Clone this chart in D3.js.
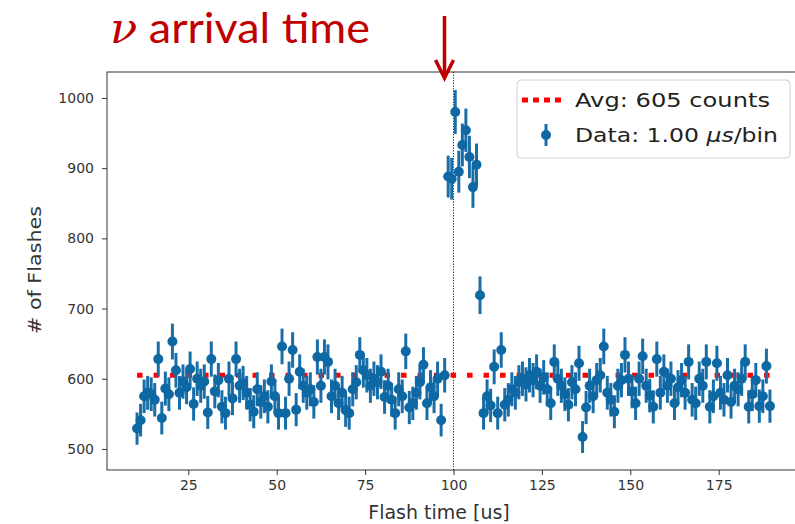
<!DOCTYPE html>
<html>
<head>
<meta charset="utf-8">
<script src="https://cdn.jsdelivr.net/npm/d3@7"></script>
<style>
  html, body { margin: 0; padding: 0; background: #fff; }
  svg { display: block; }
  .axis text { font-family: "DejaVu Sans", sans-serif; font-size: 14px; fill: #333; }
  .axis path, .axis line { stroke: #333; }
</style>
</head>
<body>
<div id="chart"></div>
<script>
// bin centres run from 10.5 to 189.5 us, one per bin
const binStart = 10.5;
const counts = [
  529, 541, 575, 580, 578, 570, 628, 544, 586, 578,
  653, 612, 580, 596, 588, 614, 564, 600, 590, 596,
  552, 628, 582, 598, 560, 551, 600, 572, 628, 590,
  594, 580, 563, 553, 585, 567, 575, 560, 596, 575,
  551, 646, 551, 600, 641, 556, 610, 590, 580, 585,
  567, 631, 590, 631, 624, 575, 590, 565, 580, 555,
  551, 585, 595, 634, 612, 605, 590, 600, 595, 610,
  574, 590, 570, 551, 585, 575, 639, 559, 565, 580,
  595, 620, 565, 588, 575, 600, 541, 605, 888, 885,
  980, 895, 933, 954, 916, 873, 905, 719, 551, 575,
  562, 617, 551, 641, 563, 570, 585, 580, 595, 600,
  592, 605, 598, 610, 590, 602, 585, 565, 624, 600,
  590, 578, 563, 595, 585, 622, 517, 559, 590, 575,
  598, 605, 646, 580, 570, 553, 590, 598, 634, 600,
  582, 565, 600, 632, 590, 576, 560, 628, 580, 610,
  590, 600, 565, 588, 598, 580, 624, 570, 565, 600,
  590, 624, 560, 575, 622, 580, 570, 605, 567, 590,
  585, 600, 624, 560, 578, 598, 561, 575, 618, 561
];
const avgCount = 605;
const arrivalTime = 100;
const xTicks = [25, 50, 75, 100, 125, 150, 175];
const yTicks = [500, 600, 700, 800, 900, 1000];

const data = counts.map((c, i) => ({ t: binStart + i, n: c, err: Math.sqrt(c) }));

const W = 795, H = 524;
const plot = { left: 107, right: 800, top: 72, bottom: 470 };

const svg = d3.select("#chart").append("svg")
  .attr("width", W)
  .attr("height", H);

const x = d3.scaleLinear().domain([2, 198]).range([plot.left, plot.right]);
const y = d3.scaleLinear().domain([470, 1037]).range([plot.bottom, plot.top]);

// frame
svg.append("rect")
  .attr("x", plot.left).attr("y", plot.top)
  .attr("width", plot.right - plot.left).attr("height", plot.bottom - plot.top)
  .attr("fill", "none").attr("stroke", "#333").attr("stroke-width", 1);

// axes
svg.append("g")
  .attr("class", "axis")
  .attr("transform", `translate(0,${plot.bottom})`)
  .call(d3.axisBottom(x).tickValues(xTicks).tickSize(5).tickPadding(5).tickFormat(d3.format("d")))
  .call(g => g.select(".domain").remove());

svg.append("g")
  .attr("class", "axis")
  .attr("transform", `translate(${plot.left},0)`)
  .call(d3.axisLeft(y).tickValues(yTicks).tickSize(5).tickPadding(8).tickFormat(d3.format("d")))
  .call(g => g.select(".domain").remove());

svg.append("text")
  .attr("x", 439)
  .attr("y", 519)
  .attr("text-anchor", "middle")
  .attr("font-family", "DejaVu Sans, sans-serif")
  .attr("font-size", "19px")
  .attr("fill", "#333")
  .text("Flash time [us]");

svg.append("text")
  .attr("transform", `translate(41,270) rotate(-90)`)
  .attr("text-anchor", "middle")
  .attr("font-family", "DejaVu Sans, sans-serif")
  .attr("font-size", "18px")
  .attr("fill", "#333")
  .attr("textLength", 128)
  .attr("lengthAdjust", "spacingAndGlyphs")
  .text("# of Flashes");

// arrival marker
svg.append("line")
  .attr("x1", x(arrivalTime)).attr("x2", x(arrivalTime))
  .attr("y1", plot.top).attr("y2", plot.bottom)
  .attr("stroke", "#222").attr("stroke-width", 1)
  .attr("stroke-dasharray", "1.2,1.5");

// average line
const tExtent = d3.extent(data, d => d.t);
svg.append("line")
  .attr("x1", x(tExtent[0])).attr("x2", x(tExtent[1]))
  .attr("y1", y(avgCount)).attr("y2", y(avgCount))
  .attr("stroke", "#ff0000").attr("stroke-width", 5)
  .attr("stroke-dasharray", "5.5,11");

// error bars + points
const blue = "#1a6ea8";
const pts = svg.append("g");
pts.selectAll("line")
  .data(data)
  .enter()
  .append("line")
  .attr("x1", d => x(d.t)).attr("x2", d => x(d.t))
  .attr("y1", d => y(d.n - d.err)).attr("y2", d => y(d.n + d.err))
  .attr("stroke", blue).attr("stroke-width", 3);

pts.selectAll("circle")
  .data(data)
  .enter()
  .append("circle")
  .attr("cx", d => x(d.t))
  .attr("cy", d => y(d.n))
  .attr("r", 5)
  .attr("fill", "#0e68a3");

// legend
const lg = svg.append("g").attr("transform", "translate(517,80)");
lg.append("rect")
  .attr("width", 273).attr("height", 78).attr("rx", 4)
  .attr("fill", "#fff").attr("fill-opacity", 0.85)
  .attr("stroke", "#d0d0d0").attr("stroke-width", 1);
lg.append("line")
  .attr("x1", 5).attr("x2", 48).attr("y1", 20).attr("y2", 20)
  .attr("stroke", "#ff0000").attr("stroke-width", 5)
  .attr("stroke-dasharray", "6,5");
lg.append("text")
  .attr("x", 58).attr("y", 27)
  .attr("font-family", "DejaVu Sans, sans-serif")
  .attr("font-size", "19px").attr("fill", "#222")
  .attr("textLength", 195)
  .attr("lengthAdjust", "spacingAndGlyphs")
  .text("Avg: 605 counts");
lg.append("line")
  .attr("x1", 29).attr("x2", 29).attr("y1", 44).attr("y2", 66)
  .attr("stroke", blue).attr("stroke-width", 3);
lg.append("circle")
  .attr("cx", 29).attr("cy", 55).attr("r", 5).attr("fill", "#0e68a3");
const dt = lg.append("text")
  .attr("x", 58).attr("y", 62)
  .attr("font-family", "DejaVu Sans, sans-serif")
  .attr("font-size", "19px").attr("fill", "#222")
  .attr("textLength", 203)
  .attr("lengthAdjust", "spacingAndGlyphs");
dt.append("tspan").text("Data: 1.00 ");
dt.append("tspan").attr("font-style", "italic").text("μs");
dt.append("tspan").text("/bin");

// annotation
svg.append("text")
  .attr("x", 110).attr("y", 43)
  .attr("font-family", "Lato, 'Open Sans', sans-serif")
  .attr("font-size", "42px")
  .attr("fill", "#c00000")
  .attr("textLength", 260)
  .attr("lengthAdjust", "spacingAndGlyphs")
  .call(t => {
    t.append("tspan").attr("font-style", "italic").attr("font-family", "DejaVu Serif, serif").text("ν");
    t.append("tspan").text(" arrival time");
  });

const ax = x(arrivalTime) - 9;
svg.append("line")
  .attr("x1", ax).attr("x2", ax).attr("y1", 16).attr("y2", 76)
  .attr("stroke", "#c00000").attr("stroke-width", 3.5);
svg.append("path")
  .attr("d", `M${ax - 9},${60} L${ax},${78} L${ax + 9},${60}`)
  .attr("fill", "none").attr("stroke", "#c00000").attr("stroke-width", 3.5)
  .attr("stroke-linejoin", "miter");
</script>
</body>
</html>
